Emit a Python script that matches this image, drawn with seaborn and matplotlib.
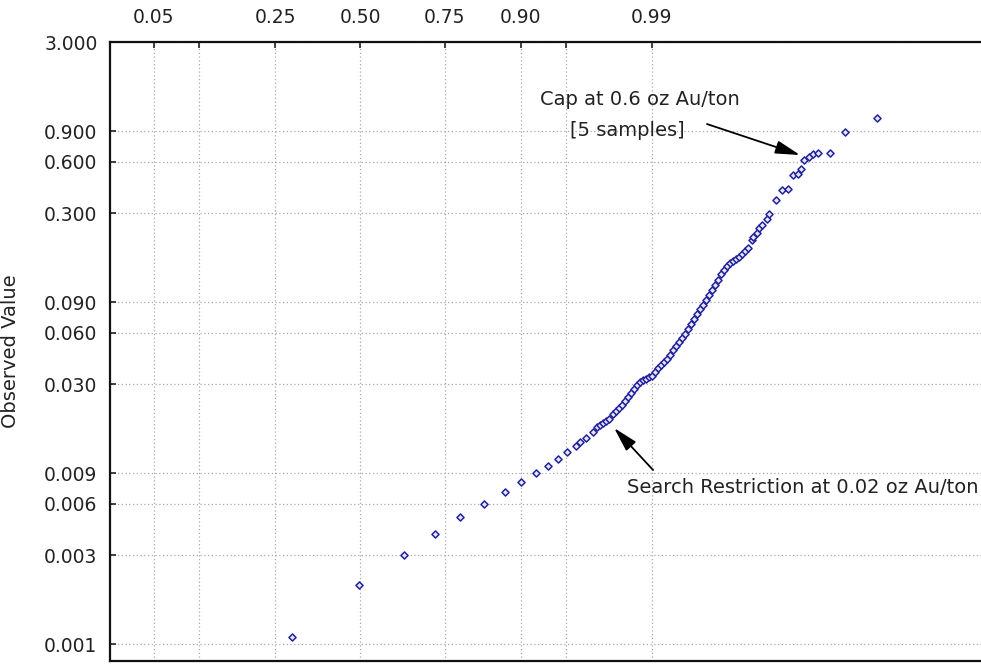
import matplotlib
matplotlib.use("Agg")
import matplotlib.pyplot as plt
import seaborn as sns
import pandas as pd
from statistics import NormalDist

# ---- data: expected normal value (rank-based) vs observed value ----
expected_normal = [
    -0.54, -0.01, 0.35, 0.60, 0.80, 0.99, 1.16, 1.28, 1.40, 1.50,
    1.576, 1.648, 1.72, 1.755, 1.80, 1.855,
    1.890, 1.914, 1.938, 1.962, 1.986,
    2.018, 2.041, 2.065, 2.089, 2.113, 2.137, 2.161, 2.185, 2.209, 2.233,
    2.257, 2.281, 2.305, 2.329,
    2.352, 2.376, 2.400, 2.424, 2.448, 2.472, 2.496, 2.520, 2.544, 2.568,
    2.592, 2.616, 2.640, 2.663, 2.687, 2.711, 2.735, 2.759, 2.783, 2.807,
    2.831, 2.855, 2.879, 2.903, 2.927, 2.951, 2.974, 2.998, 3.022, 3.046,
    3.070, 3.094,
    3.126, 3.134, 3.166, 3.182, 3.206, 3.246, 3.262, 3.317, 3.365, 3.413,
    3.453, 3.493, 3.517, 3.541, 3.581, 3.612, 3.652, 3.748, 3.868, 4.123,
]
observed_value = [
    0.001, 0.002, 0.003, 0.004, 0.005, 0.006, 0.007, 0.008, 0.009, 0.010,
    0.011, 0.012, 0.013, 0.0138, 0.0145, 0.0157,
    0.0168, 0.0173, 0.0177, 0.0182, 0.0187,
    0.0200, 0.0209, 0.0217, 0.0226, 0.0239, 0.0252, 0.0266, 0.0280, 0.0296, 0.0308,
    0.0317, 0.0321, 0.0330, 0.0334,
    0.0353, 0.0372, 0.0388, 0.0403, 0.0420, 0.0443, 0.0474, 0.0500, 0.0528, 0.0557,
    0.0588, 0.0629, 0.0673, 0.0720, 0.0770, 0.0823, 0.0869, 0.0930, 0.0995, 0.1064,
    0.1138, 0.1217, 0.1320, 0.1392, 0.1469, 0.1530, 0.1572, 0.1615, 0.1659, 0.1727,
    0.1798, 0.1873,
    0.2086, 0.2172, 0.2292, 0.2451, 0.2552, 0.2767, 0.2960, 0.3573, 0.4089, 0.4144,
    0.500, 0.510, 0.545, 0.612, 0.640, 0.660, 0.673, 0.673, 0.893, 1.078,
]

prob_ticks = [0.05, 0.10, 0.25, 0.50, 0.75, 0.90, 0.95, 0.99]
prob_labels = ["0.05", "", "0.25", "0.50", "0.75", "0.90", "", "0.99"]
y_ticks = [3.0, 0.9, 0.6, 0.3, 0.09, 0.06, 0.03, 0.009, 0.006, 0.003, 0.0009]
y_labels = ["3.000", "0.900", "0.600", "0.300", "0.090", "0.060", "0.030",
            "0.009", "0.006", "0.003", "0.001"]

df = pd.DataFrame({"z": expected_normal, "v": observed_value})

sns.set_style("white")
plt.rcParams["font.family"] = ["DejaVu Sans"]

fig = plt.figure(figsize=(9.81, 6.64), dpi=100)
ax = fig.add_axes([110 / 981, 3 / 664, 871 / 981, 619 / 664])

sns.scatterplot(data=df, x="z", y="v", ax=ax, marker="D", s=13,
                color="#e8e8f4", edgecolor="#22229a", linewidth=1.1, zorder=3)

ax.set_yscale("log")
ax.set_xlim(-1.994, 4.952)
ax.set_ylim(0.00072, 3.0)

nd = NormalDist()
ax.set_xticks([nd.inv_cdf(p) for p in prob_ticks])
ax.set_xticklabels(prob_labels)
ax.set_yticks(y_ticks)
ax.set_yticklabels(y_labels)
ax.yaxis.set_minor_locator(matplotlib.ticker.NullLocator())

ax.tick_params(axis="x", which="both", bottom=False, top=True,
               labelbottom=False, labeltop=True, direction="in",
               length=4, width=1.2, pad=11, labelsize=13.5, colors="#222222")
ax.tick_params(axis="y", which="major", left=True, right=False,
               direction="in", length=4, width=1.2, pad=9,
               labelsize=13.5, colors="#222222")

ax.grid(True, which="major", linestyle=(0, (1, 2)), color="#a8a8a8",
        linewidth=0.9, zorder=0)

for side in ["left", "top", "bottom"]:
    ax.spines[side].set_visible(True)
    ax.spines[side].set_color("#111111")
    ax.spines[side].set_linewidth(1.6)
ax.spines["right"].set_visible(False)

ax.set_xlabel("")
ax.set_ylabel("Observed Value", fontsize=14, color="#222222")
ax.yaxis.set_label_coords(-0.103, 0.5)

# annotations
arrow_style = dict(arrowstyle="-|>,head_length=0.75,head_width=0.2",
                   color="black", lw=1.3, mutation_scale=20,
                   shrinkA=0, shrinkB=0)
ax.text(1.435, 1.374, "Cap at 0.6 oz Au/ton", fontsize=14, color="#222222",
        va="center", ha="left")
ax.text(1.675, 0.917, "[5 samples]", fontsize=14, color="#222222",
        va="center", ha="left")
ax.annotate("", xy=(3.509, 0.655), xytext=(2.767, 0.994),
            arrowprops=arrow_style)

ax.text(2.129, 0.00749, "Search Restriction at 0.02 oz Au/ton", fontsize=14,
        color="#222222", va="center", ha="left")
ax.annotate("", xy=(2.026, 0.0166), xytext=(2.337, 0.00942),
            arrowprops=arrow_style)

fig.savefig("out.png", dpi=100)
